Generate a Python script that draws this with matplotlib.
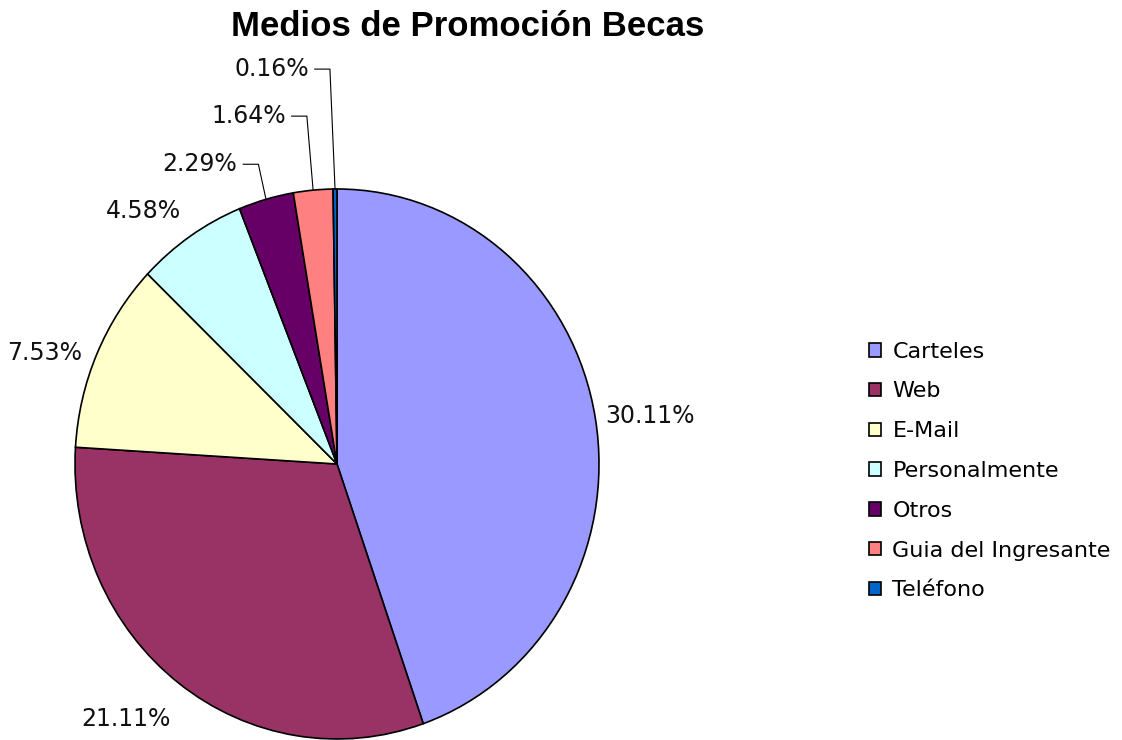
import numpy as np
import matplotlib
matplotlib.use("Agg")
import matplotlib.pyplot as plt

# data
categories = ["Carteles", "Web", "E-Mail", "Personalmente", "Otros",
              "Guia del Ingresante", "Teléfono"]
values = [30.11, 21.11, 7.53, 4.58, 2.29, 1.64, 0.16]
colors = ["#9999FF", "#993366", "#FFFFCC", "#CCFFFF", "#660066",
          "#FF8080", "#0066CC"]

# small slices get labels stacked above with leader lines (layout, data coords)
leader_text = {4: (-0.38, 1.09), 5: (-0.195, 1.265), 6: (-0.107, 1.436)}

plt.rcParams['font.family'] = ['DejaVu Sans']

fig = plt.figure(figsize=(11.22, 7.4), dpi=100)
# axes spans the (slightly stretched) pie
ax = fig.add_axes([75 / 1122, 1 / 740, 524 / 1122, 550 / 740])

wedges, _ = ax.pie(values, colors=colors, startangle=90, counterclock=False,
                   wedgeprops=dict(edgecolor="black", linewidth=1.2))
ax.set_aspect('auto')
ax.set_xlim(-1, 1)
ax.set_ylim(-1, 1)
ax.axis('off')

for i, w in enumerate(wedges):
    mid = np.deg2rad((w.theta1 + w.theta2) / 2)
    c, s = np.cos(mid), np.sin(mid)
    label = "%.2f%%" % values[i]
    if i in leader_text:
        tx, ty = leader_text[i]
        elbow_x = tx + 0.08
        ax.plot([c, elbow_x, tx + 0.022], [s, ty, ty], color="black",
                linewidth=0.8, clip_on=False)
        ax.text(tx, ty, label, ha="right", va="center", fontsize=17,
                color="#111111")
        continue
    ha = "left" if c > 0 else "right"
    off = (0, 0)
    if abs(s) < 0.2:
        va, r = "center", 1.04
    elif abs(s) < 0.5:
        va, r, off = "center", 1.06, (0, -4)
    elif s > 0:
        va, r = "bottom", 1.06
    else:
        va, r, off = "top", 1.06, (1, -8)
    ax.annotate(label, xy=(r * c, r * s), xytext=off,
                textcoords="offset points", ha=ha, va=va, fontsize=17,
                color="#111111", annotation_clip=False)

fig.text(468 / 1122, 1 - 26 / 740, "Medios de Promoción Becas",
         ha="center", va="center", fontsize=25, fontweight="bold",
         family="Liberation Sans")

fig.legend(wedges, categories, loc="center left",
           bbox_to_anchor=(858 / 1122, 1 - 471 / 740), frameon=False,
           fontsize=16, handlelength=0.55, handleheight=0.55,
           handletextpad=0.5, labelspacing=0.89, borderpad=0)

fig.savefig("out.png", dpi=100)
